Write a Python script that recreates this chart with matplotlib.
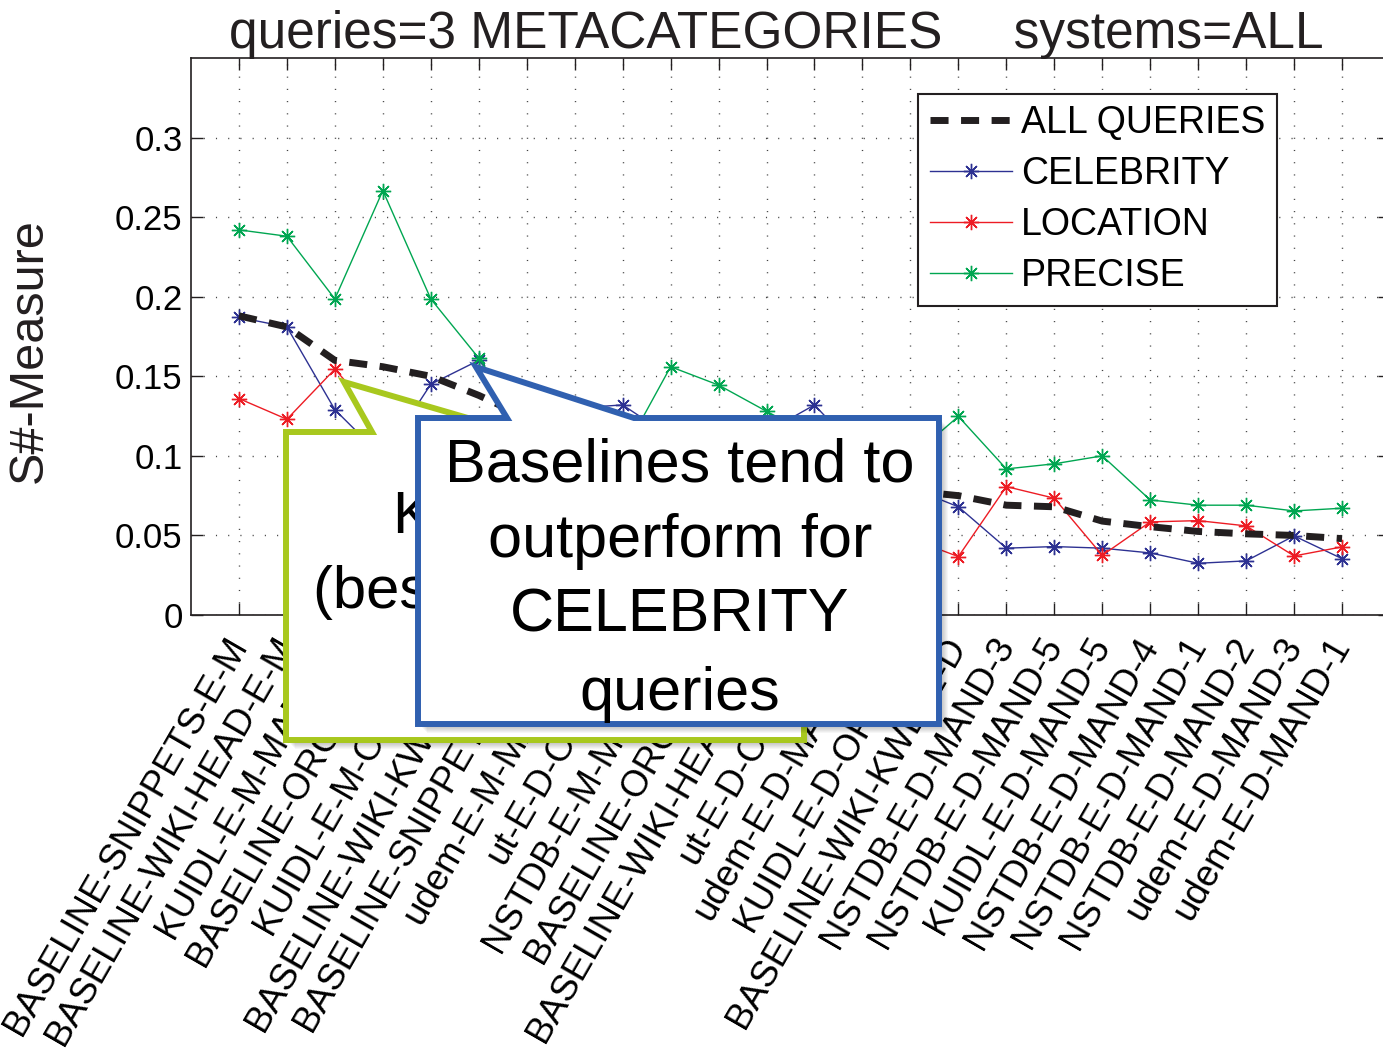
import numpy as np
import matplotlib
matplotlib.use("Agg")
import matplotlib.pyplot as plt
from matplotlib.patches import Polygon
from matplotlib.ticker import FormatStrFormatter

plt.rcParams['font.family'] = ['Liberation Sans', 'DejaVu Sans']

# ---- data ----
systems = ['BASELINE-SNIPPETS-E-M', 'BASELINE-WIKI-HEAD-E-M', 'KUIDL-E-M-MAND-5',
           'BASELINE-ORCL-E-M', 'KUIDL-E-M-OPEN-6', 'BASELINE-WIKI-KWD-E-M',
           'BASELINE-SNIPPETS-E-D', 'udem-E-M-MAND-4', 'ut-E-D-OPEN-1',
           'NSTDB-E-M-MAND-6', 'BASELINE-ORCL-E-D', 'BASELINE-WIKI-HEAD-E-D',
           'ut-E-D-OPEN-2', 'udem-E-D-MAND-4', 'KUIDL-E-D-OPEN-4',
           'BASELINE-WIKI-KWD-E-D', 'NSTDB-E-D-MAND-3', 'NSTDB-E-D-MAND-5',
           'KUIDL-E-D-MAND-5', 'NSTDB-E-D-MAND-4', 'NSTDB-E-D-MAND-1',
           'NSTDB-E-D-MAND-2', 'udem-E-D-MAND-3', 'udem-E-D-MAND-1']

all_queries = [0.188, 0.181, 0.160, 0.156, 0.150, 0.138, 0.124, 0.116, 0.110, 0.104,
               0.099, 0.094, 0.089, 0.084, 0.078, 0.075, 0.069, 0.068, 0.059, 0.0555,
               0.0525, 0.051, 0.050, 0.048]
celebrity = [0.187, 0.181, 0.129, 0.099, 0.145, 0.160, 0.125, 0.130, 0.132, 0.112,
             0.105, 0.115, 0.132, 0.100, 0.080, 0.068, 0.042, 0.043, 0.042, 0.039,
             0.0325, 0.034, 0.0497, 0.0354]
location = [0.136, 0.123, 0.1545, 0.120, 0.110, 0.100, 0.095, 0.090, 0.086, 0.082,
            0.078, 0.072, 0.066, 0.058, 0.048, 0.0367, 0.0807, 0.0734, 0.0375, 0.0585,
            0.0593, 0.056, 0.0371, 0.0428]
precise = [0.242, 0.238, 0.1986, 0.2667, 0.1986, 0.1614, 0.118, 0.108, 0.101, 0.156,
           0.1445, 0.128, 0.112, 0.106, 0.0987, 0.1248, 0.0918, 0.095, 0.100, 0.0723,
           0.069, 0.069, 0.0654, 0.0671]

W, H = 1383, 1048
fig = plt.figure(figsize=(W / 100, H / 100), dpi=100)


def fx(px):
    return px / W


def fy(py):
    return 1 - py / H


ax = fig.add_axes([fx(191), fy(615), (1390 - 191) / W, (615 - 58) / H])

x = np.arange(1, len(systems) + 1)
star = (8, 2, 0)
h_c, = ax.plot(x, celebrity, color='#2D3192', lw=1.0, marker=star, ms=11, mew=1.0)
h_l, = ax.plot(x, location, color='#ED1C24', lw=1.0, marker=star, ms=11, mew=1.0)
h_p, = ax.plot(x, precise, color='#00A651', lw=1.0, marker=star, ms=11, mew=1.0)
h_a, = ax.plot(x, all_queries, color='#231F20', lw=5.0, ls=(0, (2.6, 1.8)), zorder=5)

ax.set_xlim(0, 25)
ax.set_ylim(0, 0.35)
ax.set_yticks([0, 0.05, 0.1, 0.15, 0.2, 0.25, 0.3])
ax.yaxis.set_major_formatter(FormatStrFormatter('%g'))
ax.set_xticks(x)
ax.set_xticklabels(systems, rotation=60, ha='right', va='center',
                   rotation_mode='anchor', fontsize=26.5)
ax.tick_params(axis='both', direction='in', length=8.5, width=1.0, top=True,
               right=True, color='#231F20')
ax.tick_params(axis='y', labelsize=25, pad=6)
ax.tick_params(axis='x', pad=18)
ax.grid(True, linestyle=(0, (0.8, 8)), linewidth=1.0, color='#444444')
for sp in ax.spines.values():
    sp.set_linewidth(1.2)
    sp.set_color('#231F20')

leg = ax.legend([h_a, h_c, h_l, h_p], ['ALL QUERIES', 'CELEBRITY', 'LOCATION', 'PRECISE'],
                loc='upper right', bbox_to_anchor=(fx(1277), fy(94)),
                bbox_transform=fig.transFigure, borderaxespad=0, fontsize=27,
                numpoints=1, handlelength=2.2, handletextpad=0.25, labelspacing=0.40,
                borderpad=0.3, fancybox=False, framealpha=1, edgecolor='#231F20')
leg.get_frame().set_linewidth(1.5)

fig.text(fx(776), fy(48), 'queries=3 METACATEGORIES     systems=ALL', ha='center',
         va='baseline', fontsize=37, color='#231F20')
fig.text(fx(29), fy(351), 'S#-Measure', rotation=90, ha='center', va='center',
         fontsize=35, color='#231F20')


# ---- callouts ----
def callout(pts, box, color, z):
    x0, y0, x1, y1 = box
    for d in range(1, 10):
        sh = [(fx(x0 + d), fy(y0 + d)), (fx(x1 + d), fy(y0 + d)),
              (fx(x1 + d), fy(y1 + d)), (fx(x0 + d), fy(y1 + d))]
        fig.patches.append(Polygon(sh, closed=True, transform=fig.transFigure,
                                   facecolor='black', edgecolor='none', alpha=0.035,
                                   zorder=z - 0.5))
    fig.patches.append(Polygon([(fx(a), fy(b)) for a, b in pts], closed=True,
                               transform=fig.transFigure, facecolor='white',
                               edgecolor=color, lw=4.3, joinstyle='miter', zorder=z))


green_pts = [(286, 432), (372, 432), (344, 382), (516, 432), (804, 432), (804, 740),
             (286, 740)]
callout(green_pts, (286, 432, 804, 740), '#A8C81E', 10)
fig.text(fx(393), fy(533), 'KUIDL wins', fontsize=43, va='baseline', zorder=11)
fig.text(fx(313), fy(608), '(best on average)', fontsize=43, va='baseline', zorder=11)

blue_pts = [(418, 418), (507, 418), (476, 367), (634, 418), (939, 418), (939, 724),
            (418, 724)]
callout(blue_pts, (418, 418, 939, 724), '#3060B0', 20)
for txt, base in [('Baselines tend to', 482), ('outperform for', 557),
                  ('CELEBRITY', 632), ('queries', 710)]:
    fig.text(fx(680), fy(base), txt, fontsize=44, ha='center', va='baseline', zorder=21)

fig.savefig('out.png', dpi=100)
